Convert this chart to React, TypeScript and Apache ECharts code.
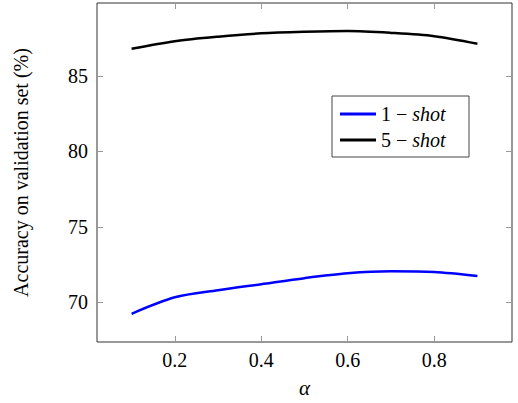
import React, { useEffect, useRef } from "react";
import * as echarts from "echarts";

const alphas = [0.1, 0.2, 0.3, 0.4, 0.5, 0.6, 0.7, 0.8, 0.9];
const oneShot = [69.24, 70.33, 70.8, 71.2, 71.6, 71.92, 72.05, 72.0, 71.74];
const fiveShot = [86.8, 87.3, 87.6, 87.82, 87.92, 87.97, 87.85, 87.63, 87.13];
const xTicks = [0.2, 0.4, 0.6, 0.8];
const yTicks = [70, 75, 80, 85];
const seriesNames = ["1 − shot", "5 − shot"];

const FONT = "Liberation Serif";

export default function App() {
  const ref = useRef<HTMLDivElement>(null);
  useEffect(() => {
    if (!ref.current) return;
    const chart = echarts.init(ref.current, undefined, { renderer: "svg" });
    const tick = { show: true, inside: true, length: 6, lineStyle: { color: "#999", width: 1 } };
    const xAxisBase = {
      type: "value",
      min: 0.02,
      max: 0.98,
      axisLine: { show: false },
      splitLine: { show: false },
      axisTick: { ...tick, customValues: xTicks },
    };
    const yAxisBase = {
      type: "value",
      min: 67.37,
      max: 89.83,
      axisLine: { show: false },
      splitLine: { show: false },
      axisTick: { ...tick, customValues: yTicks },
    };
    chart.setOption({
      animation: false,
      textStyle: { fontFamily: FONT },
      grid: {
        left: 97,
        right: 6,
        top: 3,
        bottom: 56,
        show: true,
        borderColor: "#333",
        borderWidth: 1,
        backgroundColor: "transparent",
      },
      xAxis: [
        {
          ...xAxisBase,
          position: "bottom",
          name: "α",
          nameLocation: "middle",
          nameGap: 35,
          nameTextStyle: { fontFamily: FONT, fontSize: 21, fontStyle: "italic", color: "#000" },
          axisLabel: {
            customValues: xTicks,
            formatter: (v: number) => v.toFixed(1),
            fontFamily: FONT,
            fontSize: 20,
            color: "#000",
            margin: 8,
          },
        },
        { ...xAxisBase, position: "top", axisLabel: { show: false } },
      ],
      yAxis: [
        {
          ...yAxisBase,
          position: "left",
          name: "Accuracy on validation set (%)",
          nameLocation: "middle",
          nameGap: 66,
          nameTextStyle: { fontFamily: FONT, fontSize: 20, color: "#000" },
          axisLabel: {
            customValues: yTicks,
            formatter: (v: number) => String(v),
            fontFamily: FONT,
            fontSize: 20,
            color: "#000",
            margin: 9,
          },
        },
        { ...yAxisBase, position: "right", axisLabel: { show: false } },
      ],
      legend: {
        show: true,
        orient: "vertical",
        left: 332,
        top: 96,
        borderColor: "#444",
        borderWidth: 1,
        padding: [6, 10, 5, 8],
        itemGap: 2,
        itemWidth: 36,
        itemHeight: 3,
        icon: "rect",
        backgroundColor: "#fff",
        data: seriesNames,
        formatter: (name: string) => {
          const parts = name.split(" − ");
          return parts[0] + " − {i|" + parts[1] + "}";
        },
        textStyle: {
          fontFamily: FONT,
          fontSize: 20,
          lineHeight: 24,
          width: 78,
          color: "#000",
          rich: { i: { fontFamily: FONT, fontSize: 20, lineHeight: 24, fontStyle: "italic", color: "#000" } },
        },
      },
      series: [
        {
          name: seriesNames[0],
          type: "line",
          data: alphas.map((a, i) => [a, oneShot[i]]),
          showSymbol: false,
          symbol: "none",
          smooth: 0.3,
          lineStyle: { color: "#0000ff", width: 2.5 },
          itemStyle: { color: "#0000ff" },
        },
        {
          name: seriesNames[1],
          type: "line",
          data: alphas.map((a, i) => [a, fiveShot[i]]),
          showSymbol: false,
          symbol: "none",
          smooth: 0.3,
          lineStyle: { color: "#000", width: 2.5 },
          itemStyle: { color: "#000" },
        },
      ],
    });
    return () => chart.dispose();
  }, []);
  return <div ref={ref} style={{ width: 518, height: 403, position: "absolute", left: 0, top: 0 }} />;
}
